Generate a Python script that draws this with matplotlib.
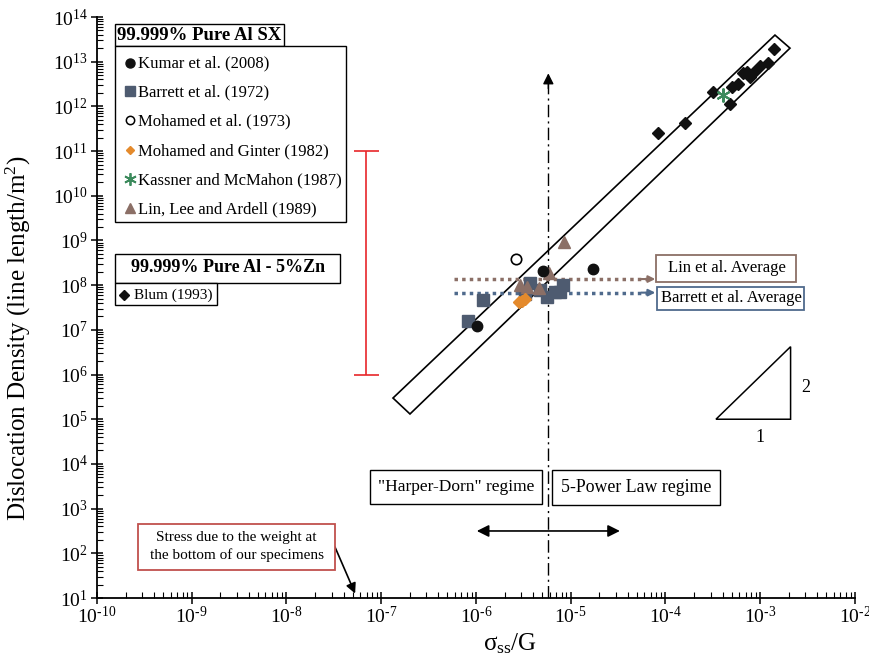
import matplotlib
matplotlib.use("Agg")
import matplotlib.pyplot as plt
from matplotlib.patches import Rectangle, Polygon
from matplotlib.ticker import LogLocator, FuncFormatter, NullFormatter
import numpy as np

plt.rcParams['font.family'] = ['Liberation Serif', 'DejaVu Serif']
plt.rcParams['mathtext.fontset'] = 'custom'
plt.rcParams['mathtext.rm'] = 'Liberation Serif'
plt.rcParams['mathtext.it'] = 'Liberation Serif:italic'
plt.rcParams['mathtext.bf'] = 'Liberation Serif:bold'

# ---------------- data ----------------
kumar_x = [1.03e-6, 5.1e-6, 1.72e-5]
kumar_y = [1.2e7, 2.07e8, 2.3e8]

barrett_x = [8.2e-7, 1.19e-6, 3.3e-6, 3.7e-6, 4.7e-6, 5.6e-6, 6.8e-6, 7.7e-6, 8.3e-6]
barrett_y = [1.55e7, 4.6e7, 6.3e7, 1.1e8, 7.8e7, 5.4e7, 7.0e7, 7.0e7, 1.0e8]

mohamed_x = [2.62e-6]
mohamed_y = [3.8e8]

ginter_x = [2.84e-6, 3.05e-6, 3.29e-6]
ginter_y = [4.2e7, 4.5e7, 4.9e7]

kassner_x = [4.05e-4]
kassner_y = [1.8e12]

lin_x = [2.91e-6, 3.45e-6, 4.62e-6, 5.89e-6, 8.5e-6]
lin_y = [1.0e8, 9.1e7, 8.6e7, 1.86e8, 9.2e8]

blum_x = [8.4e-5, 1.61e-4, 3.2e-4, 4.8e-4, 5.07e-4, 5.78e-4, 6.53e-4, 7.2e-4,
          7.8e-4, 8.65e-4, 9.9e-4, 1.22e-3, 1.41e-3]
blum_y = [2.5e11, 4.3e11, 2.1e12, 1.12e12, 2.66e12, 3.15e12, 5.5e12, 5.9e12,
          4.6e12, 5.8e12, 8.1e12, 9.2e12, 1.9e13]

# band around the data (corners)
band_x = [1.33e-7, 2.01e-7, 2.06e-3, 1.43e-3]
band_y = [2.98e5, 1.31e5, 2.01e13, 3.94e13]

# red range bar
range_x = 6.9e-8
range_lo, range_hi = 1e6, 1e11

# transition stress
trans_x = 5.8e-6
trans_top = 5.5e12

# averages
lin_avg = 1.37e8
barrett_avg = 6.8e7
avg_x0, avg_x1 = 5.9e-7, 7.8e-5

# regime double arrow
regime_arrow_x = [1.02e-6, 3.3e-5]
regime_arrow_y = 316

# slope triangle
tri_x = [3.41e-4, 2.09e-3, 2.09e-3]
tri_y = [1e5, 1e5, 4.2e6]

# stress due to weight
weight_x = 5.3e-8
weight_y = 10 ** 1.1
weight_from = (3.25e-8, 138)


def tick_label(v, p):
    e = int(round(np.log10(v)))
    if e < 0:
        return r'$\mathregular{10^{\text{-}%d}}$' % (-e)
    return r'$\mathregular{10^{%d}}$' % e


# ---------------- figure ----------------
W, H = 870, 656
fig = plt.figure(figsize=(W / 100, H / 100), dpi=100)
ax = fig.add_axes([97 / W, (H - 598) / H, 758 / W, 581 / H])
ax.set_xscale('log')
ax.set_yscale('log')
ax.set_xlim(1e-10, 1e-2)
ax.set_ylim(1e1, 1e14)

for s in ['top', 'right']:
    ax.spines[s].set_visible(False)
for s in ['left', 'bottom']:
    ax.spines[s].set_linewidth(1.3)

ax.xaxis.set_major_locator(LogLocator(base=10, numticks=20))
ax.yaxis.set_major_locator(LogLocator(base=10, numticks=20))
ax.xaxis.set_minor_locator(LogLocator(base=10, subs=np.arange(2, 10), numticks=20))
ax.yaxis.set_minor_locator(LogLocator(base=10, subs=np.arange(2, 10), numticks=20))
fmt = FuncFormatter(tick_label)
ax.xaxis.set_major_formatter(fmt)
ax.yaxis.set_major_formatter(fmt)
ax.xaxis.set_minor_formatter(NullFormatter())
ax.yaxis.set_minor_formatter(NullFormatter())
ax.tick_params(which='major', direction='inout', length=9, width=1.1, labelsize=14)
ax.tick_params(axis='x', which='major', pad=1)
ax.tick_params(axis='y', which='major', pad=2)
ax.tick_params(which='minor', direction='in', length=4, width=0.8)

ax.set_xlabel(r'σ$_\mathregular{ss}$/G', fontsize=18)
ax.xaxis.set_label_coords(0.545, -0.058)
ax.set_ylabel(r'Dislocation Density (line length/m$^\mathregular{2}$)', fontsize=18)
ax.yaxis.set_label_coords(-0.085, 0.447)

# band
ax.add_patch(Polygon(list(zip(band_x, band_y)), closed=True, fill=False,
                     edgecolor='black', lw=1.2, zorder=2))

# data series
ax.plot(barrett_x, barrett_y, 's', color='#4e5b70', ms=8.5, zorder=3)
ax.plot(lin_x, lin_y, '^', color='#8b6f66', ms=8, zorder=4)
ax.plot(ginter_x, ginter_y, 'D', color='#e48a2c', ms=6.5, zorder=4)
ax.plot(kumar_x, kumar_y, 'o', color='#111111', ms=7.5, zorder=5)
ax.plot(mohamed_x, mohamed_y, 'o', mfc='white', mec='black', mew=1.2, ms=7.5, zorder=5)
ax.plot(blum_x, blum_y, 'D', color='#111111', ms=6, zorder=5)
ax.plot(kassner_x, kassner_y, marker=(6, 2, 0), color='#3c8a5c', ms=10, mew=1.5, ls='none', zorder=6)

# red range bar
ax.errorbar([range_x], [range_lo], yerr=[[0], [range_hi - range_lo]], fmt='none',
            ecolor='#e8262a', elinewidth=1.2, capsize=9, capthick=1.2)

# transition dash-dot line with arrow head
ax.plot([trans_x, trans_x], [1e1, trans_top / 1.6], color='black', lw=1.0,
        dashes=(9, 3, 1.5, 3), zorder=2)
ax.annotate('', xy=(trans_x, trans_top), xytext=(trans_x, trans_top / 2.2),
            arrowprops=dict(arrowstyle='-|>', color='black', lw=1.0, mutation_scale=16,
                            shrinkA=0, shrinkB=0))

# averages dotted arrows
for yv, col in [(lin_avg, '#8b6f66'), (barrett_avg, '#4f6a8c')]:
    ax.plot([avg_x0, avg_x1 / 1.15], [yv, yv], color=col, lw=2.5,
            linestyle=(0, (1, 1.2)), zorder=2)
    ax.annotate('', xy=(avg_x1, yv), xytext=(avg_x1 / 1.4, yv),
                arrowprops=dict(arrowstyle='-|>', color=col, lw=1.5, mutation_scale=10,
                                shrinkA=0, shrinkB=0))

# regime double arrow
ax.annotate('', xy=(regime_arrow_x[0], regime_arrow_y), xytext=(regime_arrow_x[1], regime_arrow_y),
            arrowprops=dict(arrowstyle='<|-|>', color='black', lw=1.2, mutation_scale=18,
                            shrinkA=0, shrinkB=0))

# slope triangle
ax.add_patch(Polygon(list(zip(tri_x, tri_y)), closed=True, fill=False, edgecolor='black', lw=1.1))

# weight arrow
ax.annotate('', xy=(weight_x, weight_y), xytext=weight_from,
            arrowprops=dict(arrowstyle='-|>', color='black', lw=1.2, mutation_scale=15,
                            shrinkA=0, shrinkB=0))

# ---------------- overlay (pixel coordinates) ----------------
ov = fig.add_axes([0, 0, 1, 1], facecolor='none')
ov.set_xlim(0, W)
ov.set_ylim(H, 0)
ov.axis('off')


def box(x, y, w, h, ec='black', lw=1.0):
    ov.add_patch(Rectangle((x, y), w, h, fill=True, facecolor='white', edgecolor=ec, lw=lw, zorder=1))


# legend
box(115, 23.5, 169, 22.5)
ov.text(199.5, 35, '99.999% Pure Al SX', ha='center', va='center', fontsize=13.5, fontweight='bold', zorder=3)
box(115, 46, 231, 176)
rows_y = [62.7, 91, 120, 150, 179.3, 208.3]
labels = ['Kumar et al. (2008)', 'Barrett et al. (1972)', 'Mohamed et al. (1973)',
          'Mohamed and Ginter (1982)', 'Kassner and McMahon (1987)', 'Lin, Lee and Ardell (1989)']
styles = [dict(marker='o', color='#111111', ms=6.5),
          dict(marker='s', color='#4e5b70', ms=7),
          dict(marker='o', mfc='white', mec='black', mew=1.1, ms=6),
          dict(marker='D', color='#e48a2c', ms=4.5),
          dict(marker=(6, 2, 0), color='#3c8a5c', ms=9, mew=1.3),
          dict(marker='^', color='#8b6f66', ms=6.5)]
for yy, lab, st in zip(rows_y, labels, styles):
    ov.plot([130], [yy], ls='none', zorder=3, **st)
    ov.text(138, yy + 1, lab, ha='left', va='center', fontsize=12, zorder=3)

box(115, 253.5, 225.5, 29)
ov.text(228, 268, '99.999% Pure Al - 5%Zn', ha='center', va='center', fontsize=13, fontweight='bold', zorder=3)
box(115, 282.5, 102, 22.5)
ov.plot([124], [294.5], 'D', color='#111111', ms=5, zorder=3)
ov.text(134, 295, 'Blum (1993)', ha='left', va='center', fontsize=11, zorder=3)

# average boxes
box(656.5, 255, 140, 26.5, ec='#8b6f66', lw=1.3)
ov.text(726.5, 268.5, 'Lin et al. Average', ha='center', va='center', fontsize=12, zorder=3)
box(657.5, 287, 146.5, 22.5, ec='#4f6a8c', lw=1.3)
ov.text(731, 298.5, 'Barrett et al. Average', ha='center', va='center', fontsize=12, zorder=3)

# regime boxes
box(370.5, 470, 172, 33.5)
ov.text(456.5, 487, '"Harper-Dorn" regime', ha='center', va='center', fontsize=12.5, zorder=3)
box(552.5, 470, 168, 35)
ov.text(636.5, 488, '5-Power Law regime', ha='center', va='center', fontsize=12.8, zorder=3)

# stress box
box(138.5, 523.5, 196.5, 46, ec='#c0504d', lw=1.3)
ov.text(236.7, 546.5, 'Stress due to the weight at\nthe bottom of our specimens', ha='center', va='center',
        fontsize=11, linespacing=1.4, zorder=3)

# slope labels
ov.text(806, 388, '2', ha='center', va='center', fontsize=13)
ov.text(760, 437, '1', ha='center', va='center', fontsize=13)

fig.savefig('out.png', dpi=100)
